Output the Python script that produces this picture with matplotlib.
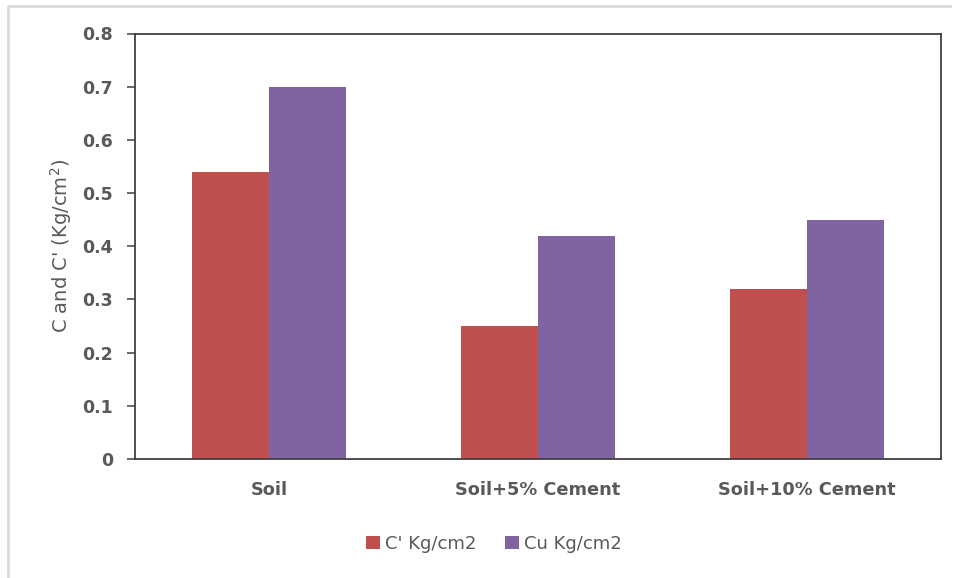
import numpy as np
import matplotlib.pyplot as plt
from matplotlib.lines import Line2D

categories = ['Soil', 'Soil+5% Cement', 'Soil+10% Cement']
c_prime = [0.54, 0.25, 0.32]
cu = [0.70, 0.42, 0.45]
series_names = ["C' Kg/cm2", 'Cu Kg/cm2']
yticks = [0, 0.1, 0.2, 0.3, 0.4, 0.5, 0.6, 0.7, 0.8]

plt.rcParams['font.family'] = ['DejaVu Sans']
grey = '#595959'

fig = plt.figure(figsize=(9.58, 5.78), dpi=100)
ax = fig.add_axes([135 / 958, 1 - 459 / 578, 806 / 958, 425.5 / 578])

x = np.arange(len(categories))
w = 0.286
ax.bar(x - w / 2, c_prime, w, color='#C0504D', label=series_names[0])
ax.bar(x + w / 2, cu, w, color='#8064A2', label=series_names[1])

ax.set_xlim(-0.5, 2.5)
ax.set_ylim(0, 0.8)
ax.set_yticks(yticks)
ax.set_yticklabels(['0'] + ['%.1f' % t for t in yticks[1:]])
ax.set_xticks(x)
ax.set_xticklabels(categories)

for s in ax.spines.values():
    s.set_color('#404040')
    s.set_linewidth(1.3)
ax.tick_params(axis='y', length=6, width=1.1, color='#404040', pad=10,
               labelsize=12.5, labelcolor=grey)
ax.tick_params(axis='x', length=0, pad=16, labelsize=12.8, labelcolor=grey)
for lab in ax.get_yticklabels() + ax.get_xticklabels():
    lab.set_fontweight('bold')

ax.set_ylabel("C and C' (Kg/cm$^2$)", fontsize=14, color=grey, va='center')
ax.yaxis.set_label_coords(61 / 958, 1 - 246 / 578, transform=fig.transFigure)

ax.legend(loc='center', bbox_to_anchor=(494 / 958, 1 - 544 / 578),
          bbox_transform=fig.transFigure, ncol=2, frameon=False,
          fontsize=13, labelcolor=grey, handlelength=0.75, handleheight=0.75,
          handletextpad=0.3, columnspacing=1.6)

# light frame edges (top and left) around the chart
fx = [7.5 / 958, 7.5 / 958, 950 / 958]
fy = [0, 1 - 5.5 / 578, 1 - 5.5 / 578]
fig.lines.append(Line2D(fx, fy, transform=fig.transFigure,
                        color='#D9D9D9', linewidth=2))

fig.savefig('out.png', dpi=100)
